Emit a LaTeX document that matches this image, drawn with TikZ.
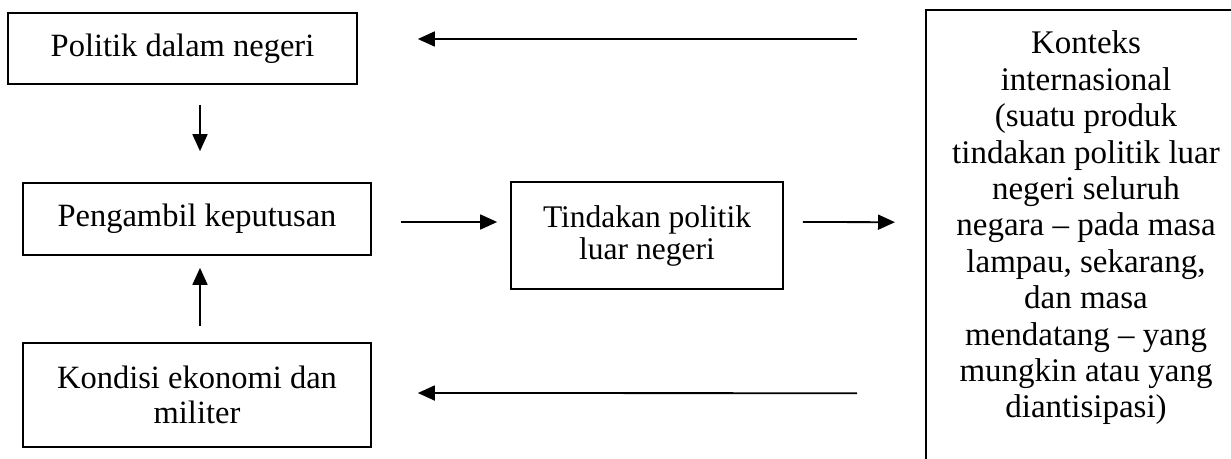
\documentclass[tikz,border=0pt]{standalone}
\usepackage{fontspec}
\setmainfont{Liberation Serif}
\usetikzlibrary{arrows.meta}
\begin{document}
\begin{tikzpicture}[x=1pt,y=-1pt,
  box/.style={draw, line width=1.7pt, rectangle, inner sep=0pt, align=center},
  txt/.style={font=\fontsize{32.5}{35.5}\selectfont},
  arr/.style={line width=1.8pt, -{Triangle[length=17pt,width=15pt]}}]
\useasboundingbox (0,0) rectangle (1231,458);
\clip (0,0) rectangle (1231,458);
\node[box, txt, minimum width=349pt, minimum height=71pt] (pol) at (182.5,48.5) {Politik dalam negeri};
\node[box, txt, minimum width=348pt, minimum height=72pt] (peng) at (197,219) {Pengambil keputusan};
\node[box, txt, minimum width=348pt, minimum height=104pt] (kon) at (197,395) {Kondisi ekonomi dan\\militer};
\node[box, font=\fontsize{31.5}{32}\selectfont, minimum width=272pt, minimum height=107pt] (tind) at (647,235.5) {Tindakan politik\\luar negeri\vphantom{g}};
\node[minimum width=320pt, minimum height=470pt, inner sep=0pt, anchor=north west] (ctx) at (926,10) {};
\draw[line width=1.7pt] (ctx.south west) -- (ctx.north west) -- (ctx.north east);
\node[align=center, font=\fontsize{33}{36.4}\selectfont] (ctxt) at (1086,228) {Konteks\\internasional\\(suatu produk\\tindakan politik luar\\negeri seluruh\\negara -- pada masa\\lampau, sekarang,\\dan masa\\mendatang -- yang\\mungkin atau yang\\diantisipasi)};
\draw[arr] ([xshift=17.5pt,yshift=-20pt]pol.south) -- ([xshift=3pt,yshift=31pt]peng.north);
\draw[arr] ([xshift=3pt,yshift=16pt]kon.north) -- ([xshift=3pt,yshift=-12pt]peng.south);
\draw[arr] ([xshift=29pt,yshift=-3pt]peng.east) -- ([xshift=-13pt,yshift=13.5pt]tind.west);
\draw[arr] ([xshift=19pt,yshift=13.5pt]tind.east) -- ([xshift=-31pt,yshift=23pt]ctx.west);
\draw[arr] ([xshift=-69pt,yshift=-29pt]ctx.north west) -- ([xshift=60pt,yshift=9.5pt]pol.east);
\draw[arr] ([xshift=-69pt,yshift=-148pt]ctx.west) -- ([xshift=46pt,yshift=2pt]kon.east);
\end{tikzpicture}
\end{document}
